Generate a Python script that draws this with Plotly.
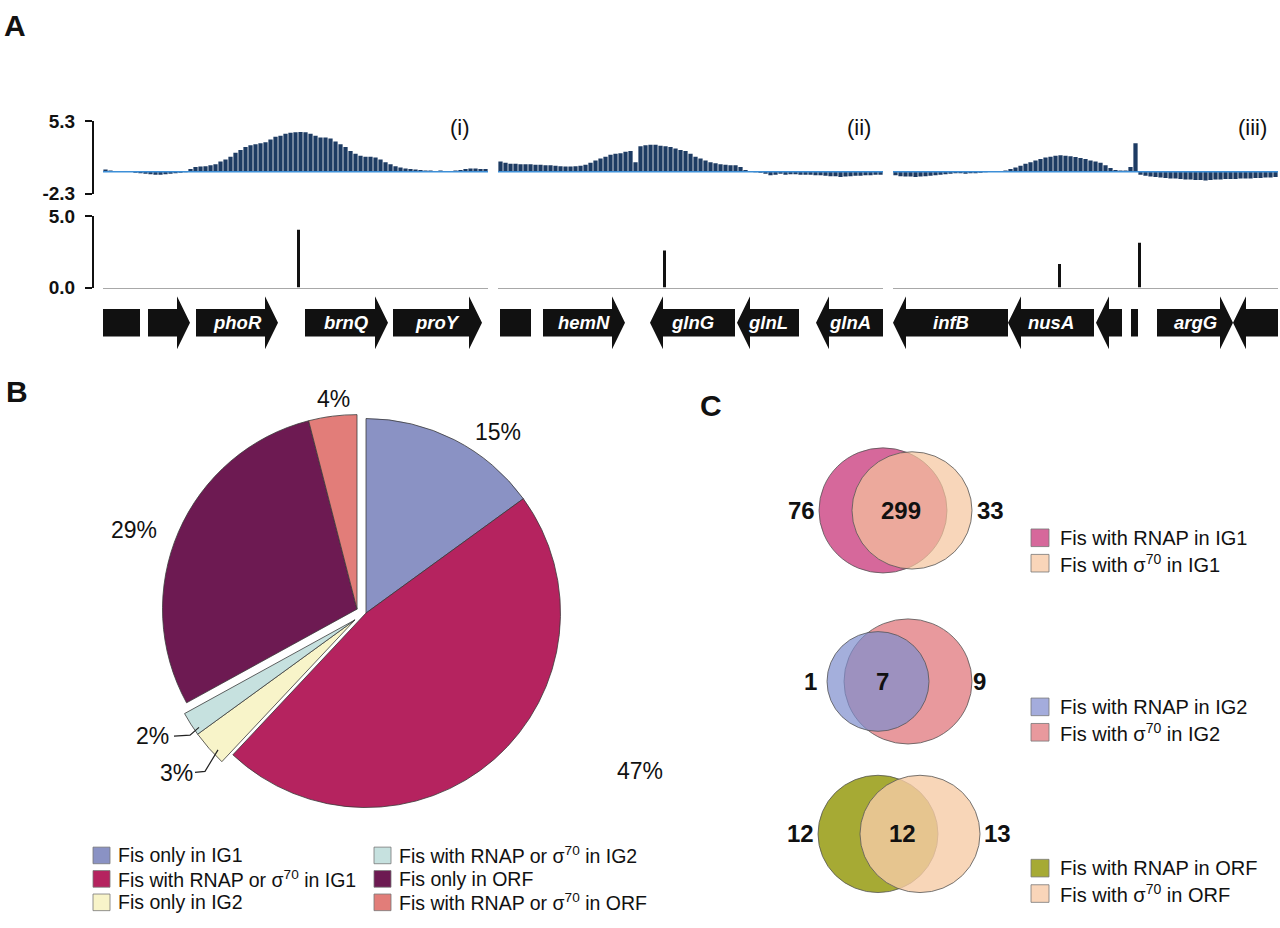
import numpy as np
import plotly.graph_objects as go

W, H = 1280, 928
FONT = "Liberation Sans, Arial, sans-serif"

# ================= DATA =================
# Panel A - Fis ChIP-chip log-ratio profile of three loci (one value per probe)
profile_i = [0.25, 0.15, 0.1, 0.05, 0.1, 0.0, -0.1, -0.15, -0.2, -0.25, -0.3, -0.3, -0.25, -0.2, -0.15, -0.1, -0.05,
             0.3, 0.5, 0.55, 0.6, 0.7, 0.8, 1.1, 1.3, 1.6, 2.0, 2.3, 2.6, 2.8, 2.9, 3.0, 3.1, 3.4, 3.7, 3.8, 4.0, 4.1, 4.15, 4.2,
             4.15, 4.0, 3.8, 3.6, 3.6, 3.5, 3.2, 2.9, 2.6, 2.2, 1.9, 1.7, 1.6, 1.6, 1.5, 1.3, 1.0, 0.8, 0.6, 0.45, 0.35, 0.3,
             0.25, 0.2, 0.15, 0.15, 0.1, 0.15, 0.1, 0.05, 0.15, 0.2, 0.3, 0.35, 0.35, 0.3, 0.3]
profile_ii = [1.1, 0.95, 0.85, 0.85, 0.8, 0.8, 0.8, 0.75, 0.75, 0.7, 0.7, 0.65, 0.6, 0.55, 0.55, 0.6, 0.65, 0.75, 0.95,
              1.2, 1.4, 1.6, 1.8, 1.9, 1.95, 2.1, 2.2, 1.0, 2.7, 2.8, 2.85, 2.85, 2.75, 2.7, 2.6, 2.45, 2.3, 2.2, 1.9,
              1.6, 1.4, 1.2, 1.0, 0.9, 0.8, 0.75, 0.7, 0.7, 0.5, 0.2, 0.05, -0.05, -0.1, -0.2, -0.35, -0.3, -0.2, -0.3,
              -0.25, -0.25, -0.3, -0.3, -0.3, -0.35, -0.35, -0.4, -0.45, -0.45, -0.55, -0.5, -0.45, -0.4, -0.4, -0.35,
              -0.35, -0.3, -0.3]
profile_iii = [-0.35, -0.45, -0.5, -0.5, -0.55, -0.5, -0.45, -0.4, -0.35, -0.3,
               -0.25, -0.2, -0.15, -0.15, -0.2, -0.15, -0.15, -0.1, -0.05, 0.0,
               0.05, 0.1, 0.15, 0.3, 0.45, 0.65, 0.85, 1.0, 1.2, 1.35,
               1.5, 1.6, 1.7, 1.75, 1.7, 1.65, 1.55, 1.45, 1.35, 1.2,
               1.1, 0.95, 0.7, 0.4, 0.2, 0.15, 0.15, 0.5, 3.0, -0.3,
               -0.4, -0.5, -0.55, -0.6, -0.65, -0.7, -0.7, -0.75, -0.8, -0.8,
               -0.85, -0.85, -0.9, -0.85, -0.8, -0.8, -0.75, -0.75, -0.75, -0.7,
               -0.7, -0.7, -0.65, -0.65, -0.6, -0.6, -0.55]

# peak calls (probe position, score)
peak_pos_i, peak_val_i = [38.6], [4.05]
peak_pos_ii, peak_val_ii = [32.8], [2.6]
peak_pos_iii, peak_val_iii = [32.8, 48.8], [1.65, 3.15]

# predicted Fis sites (triangles)
site_pos = [37.5, 32.9, 32.5]
panel_tags = ["(i)", "(ii)", "(iii)"]

track1_ticks = [-2.3, 5.3]
track2_ticks = [0.0, 5.0]

# genes (probe-position coordinates) ; strand 1 = forward, -1 = reverse, 0 = no arrow
genes_i_name = ["", "", "phoR", "brnQ", "proY"]
genes_i_start = [-0.5, 8.5, 18.1, 39.9, 57.5]
genes_i_end = [6.9, 16.9, 34.5, 56.5, 75.3]
genes_i_strand = [0, 1, 1, 1, 1]

genes_ii_name = ["", "hemN", "glnG", "glnL", "glnA"]
genes_ii_start = [-0.1, 8.5, 29.9, 47.3, 63.1]
genes_ii_end = [6.1, 24.9, 46.9, 59.7, 76.5]
genes_ii_strand = [0, 1, -1, -1, -1]

genes_iii_name = ["infB", "nusA", "", "", "argG", ""]
genes_iii_start = [-0.5, 22.5, 40.1, 47.1, 52.3, 67.5]
genes_iii_end = [22.5, 39.7, 45.3, 48.5, 67.5, 76.5]
genes_iii_strand = [-1, -1, -1, 0, 1, -1]

# Panel B - pie
pie_labels = ["Fis only in IG1", "Fis with RNAP or σ<sup>70</sup> in IG1", "Fis only in IG2",
              "Fis with RNAP or σ<sup>70</sup> in IG2", "Fis only in ORF", "Fis with RNAP or σ<sup>70</sup> in ORF"]
pie_values = [15, 47, 3, 2, 29, 4]
pie_colors = ["#8a92c4", "#b5235f", "#f8f4c9", "#c6e1df", "#6d1a52", "#e27d79"]
pie_groups = [0, 0, 1, 1, 2, 2]

# Panel C - Venn diagrams
venn_left_only = [76, 1, 12]
venn_both = [299, 7, 12]
venn_right_only = [33, 9, 13]
venn_left_names = ["Fis with RNAP in IG1", "Fis with RNAP in IG2", "Fis with RNAP in ORF"]
venn_right_names = ["Fis with σ<sup>70</sup> in IG1", "Fis with σ<sup>70</sup> in IG2", "Fis with σ<sup>70</sup> in ORF"]
venn_left_colors = ["rgb(214,104,155)", "rgb(164,172,220)", "rgb(166,170,52)"]
venn_right_colors = ["rgb(249,213,185)", "rgb(232,153,157)", "rgb(249,213,185)"]

# ================= GEOMETRY / STYLE =================
def px(x):
    return x / W


def py(y):
    return 1 - y / H


panel_x = [(103, 488), (498, 883), (893, 1278)]
track1_y = (114, 188)
track2_y = (211, 284)
gene_y = (293, 347)
axis_x = 93
BAR = "#1d3b63"
HEAD = 2.6
RH = 0.52

fig = go.Figure()
xa = ["x", "x2", "x3"]
profiles = [profile_i, profile_ii, profile_iii]
peaks = [(peak_pos_i, peak_val_i), (peak_pos_ii, peak_val_ii), (peak_pos_iii, peak_val_iii)]
genes = [(genes_i_name, genes_i_start, genes_i_end, genes_i_strand),
         (genes_ii_name, genes_ii_start, genes_ii_end, genes_ii_strand),
         (genes_iii_name, genes_iii_start, genes_iii_end, genes_iii_strand)]

shapes = []
annotations = []


def ann(x, y, text, size, color="#111", xanchor="center", xref="x9", yref="y9"):
    annotations.append(dict(x=x, y=y, xref=xref, yref=yref, text=text, showarrow=False,
                            xanchor=xanchor, yanchor="middle",
                            font=dict(family=FONT, size=size, color=color)))


layout_axes = {}
for k in range(3):
    n = len(profiles[k])
    fig.add_trace(go.Bar(x=np.arange(n), y=profiles[k], xaxis=xa[k], yaxis="y",
                         marker=dict(color=BAR, line=dict(width=0)), hoverinfo="skip", showlegend=False))
    fig.add_trace(go.Bar(x=peaks[k][0], y=peaks[k][1], width=0.6, xaxis=xa[k], yaxis="y2",
                         marker=dict(color="#111", line=dict(width=0)), hoverinfo="skip", showlegend=False))
    fig.add_trace(go.Scatter(x=[site_pos[k]], y=[7.5], mode="markers", xaxis=xa[k], yaxis="y",
                             marker=dict(symbol="triangle-down", size=21, color="#111", line=dict(width=0)),
                             cliponaxis=False, hoverinfo="skip", showlegend=False))
    key = "xaxis" if k == 0 else f"xaxis{k + 1}"
    layout_axes[key] = dict(domain=[px(panel_x[k][0]), px(panel_x[k][1])], range=[-0.5, n - 0.5],
                            anchor="y2", showline=True, linecolor="#a8a8a8", linewidth=1.5,
                            showticklabels=False, ticks="", showgrid=False, zeroline=False, fixedrange=True)
    # light-blue baseline
    shapes.append(dict(type="line", xref=f"{xa[k]} domain", x0=0, x1=1, yref="y", y0=0, y1=0,
                       line=dict(color="#3d8fd8", width=1.5), layer="above"))
    # genes
    names, st, en, sd = genes[k]
    for nm, s, e, d in zip(names, st, en, sd):
        if d == 1:
            b = e - HEAD
            path = f"M{s},{-RH} L{b},{-RH} L{b},-1 L{e},0 L{b},1 L{b},{RH} L{s},{RH} Z"
        elif d == -1:
            b = s + HEAD
            path = f"M{e},{-RH} L{b},{-RH} L{b},-1 L{s},0 L{b},1 L{b},{RH} L{e},{RH} Z"
        else:
            path = f"M{s},{-RH} L{e},{-RH} L{e},{RH} L{s},{RH} Z"
        shapes.append(dict(type="path", path=path, xref=xa[k], yref="y3", fillcolor="#111",
                           line=dict(width=0), layer="above"))
        if nm:
            ann((s + e) / 2, 0, f"<b><i>{nm}</i></b>", 18.5, color="white", xref=xa[k], yref="y3")
    ann({0: 460, 1: 859, 2: 1252}[k], 120, panel_tags[k], 22)

yaxis_common = dict(anchor="free", position=px(axis_x), showline=True, linecolor="#111", linewidth=2,
                    ticks="outside", ticklen=7, tickwidth=2, tickcolor="#111", showgrid=False, zeroline=False,
                    ticklabelstandoff=6, tickfont=dict(family=FONT, size=19, color="#111"), fixedrange=True)
layout_axes["yaxis"] = dict(domain=[py(track1_y[1]), py(track1_y[0])],
                            range=[track1_ticks[0] - 1e-4, track1_ticks[1] + 1e-4],
                            tickvals=track1_ticks, ticktext=[f"<b>{v:.1f}</b>" for v in track1_ticks], **yaxis_common)
layout_axes["yaxis2"] = dict(domain=[py(track2_y[1]), py(track2_y[0])],
                             range=[track2_ticks[0] - 1e-4, track2_ticks[1] + 1e-4],
                             tickvals=track2_ticks, ticktext=[f"<b>{v:.1f}</b>" for v in track2_ticks], **yaxis_common)
layout_axes["yaxis3"] = dict(domain=[py(gene_y[1]), py(gene_y[0])], range=[-1, 1], anchor="x",
                             visible=False, fixedrange=True)
# overlay axis in pixel units for annotations/venn
layout_axes["xaxis9"] = dict(domain=[0, 1], range=[0, W], anchor="y9", visible=False, fixedrange=True)
layout_axes["yaxis9"] = dict(domain=[0, 1], range=[H, 0], anchor="x9", visible=False, fixedrange=True)

# ---------------- Panel B: pie ----------------
cx, cy, r = 366, 617, 199
group_offsets = [(0, 0), (-11, 7), (-9, -4)]
for g, (dx, dy) in enumerate(group_offsets):
    cols = [c if grp == g else "rgba(0,0,0,0)" for c, grp in zip(pie_colors, pie_groups)]
    lws = [0.8 if grp == g else 0 for grp in pie_groups]
    fig.add_trace(go.Pie(values=pie_values, labels=pie_labels, sort=False, direction="clockwise", rotation=0,
                         marker=dict(colors=cols, line=dict(color="#3a3a3a", width=lws)),
                         textinfo="none", hoverinfo="skip", showlegend=False,
                         domain=dict(x=[px(cx + dx - r), px(cx + dx + r)], y=[py(cy + dy + r), py(cy + dy - r)])))

pct_pos = [(498, 432), (640, 779), (176, 781), (152, 743), (134, 532), (333, 398)]
for v, (x, y) in zip(pie_values, pct_pos):
    ann(x, y, f"{v}%", 23)
shapes.append(dict(type="path", xref="x9", yref="y9", path="M174,743 L190,742 L199,734",
                   line=dict(color="#222", width=1.2)))
shapes.append(dict(type="path", xref="x9", yref="y9", path="M195,780 L205,779 L218,757",
                   line=dict(color="#222", width=1.2)))

# pie legend (3 rows x 2 columns, column-major)
leg_cols_x = [93, 374]
leg_rows_y = [865, 889, 913]
sq = 17
for i, (lab, col) in enumerate(zip(pie_labels, pie_colors)):
    cxl = leg_cols_x[i // 3]
    ryl = leg_rows_y[i % 3]
    shapes.append(dict(type="rect", xref="x9", yref="y9", x0=cxl, x1=cxl + sq, y0=ryl - sq / 2, y1=ryl + sq / 2,
                       fillcolor=col, line=dict(color="#777", width=0.8)))
    ann(cxl + sq + 6, ryl, lab, 19.5, xanchor="left")

# ---------------- Panel C: Venn ----------------
venn_cy = [512, 687, 843]
venn_left_geo = [(883, 64), (878, 51), (878, 60)]
venn_right_geo = [(912, 60), (908, 64), (920, 60)]
venn_left_fill = ["rgb(214,104,155)", "rgba(126,141,205,0.7)", "rgb(166,170,52)"]
venn_right_fill = ["rgba(245,196,156,0.7)", "rgb(232,153,157)", "rgba(246,204,166,0.8)"]
venn_left_on_top = [False, True, False]
venn_lab_left_x = [801, 810, 800]
venn_lab_mid_x = [901, 882, 902]
venn_lab_right_x = [990, 979, 997]
venn_leg_rows = [(540, 566), (713, 739), (878, 904)]

for j in range(3):
    cyv = venn_cy[j]
    (lx, lr), (rx, rr) = venn_left_geo[j], venn_right_geo[j]
    left = dict(type="circle", xref="x9", yref="y9", x0=lx - lr, x1=lx + lr, y0=cyv - lr, y1=cyv + lr,
                fillcolor=venn_left_fill[j], line=dict(color="#555", width=0.8))
    right = dict(type="circle", xref="x9", yref="y9", x0=rx - rr, x1=rx + rr, y0=cyv - rr, y1=cyv + rr,
                 fillcolor=venn_right_fill[j], line=dict(color="#555", width=0.8))
    shapes.extend([right, left] if venn_left_on_top[j] else [left, right])
    ann(venn_lab_left_x[j], cyv, f"<b>{venn_left_only[j]}</b>", 24)
    ann(venn_lab_mid_x[j], cyv, f"<b>{venn_both[j]}</b>", 24)
    ann(venn_lab_right_x[j], cyv, f"<b>{venn_right_only[j]}</b>", 24)
    for name, col, yy in zip([venn_left_names[j], venn_right_names[j]],
                             [venn_left_colors[j], venn_right_colors[j]], venn_leg_rows[j]):
        shapes.append(dict(type="rect", xref="x9", yref="y9", x0=1031, x1=1049, y0=yy - 9, y1=yy + 9,
                           fillcolor=col, line=dict(color="#777", width=0.8)))
        ann(1058, yy, name, 20, xanchor="left")

# panel letters
ann(15, 16, "<b>A</b>", 30)
ann(17, 390, "<b>B</b>", 30)
ann(711, 405, "<b>C</b>", 30)

fig.update_layout(width=W, height=H, margin=dict(l=0, r=0, t=0, b=0), paper_bgcolor="white",
                  plot_bgcolor="rgba(0,0,0,0)", barmode="overlay", bargap=0.15, showlegend=False,
                  font=dict(family=FONT), shapes=shapes, annotations=annotations, **layout_axes)

page_fix = ("var d=document.documentElement,b=document.body;"
            "d.style.margin='0';d.style.padding='0';d.style.overflow='hidden';"
            "b.style.margin='0';b.style.padding='0';b.style.overflow='hidden';"
            "var g=document.getElementsByClassName('plotly-graph-div')[0];"
            "g.style.position='fixed';g.style.top='0px';g.style.left='0px';")
fig.write_html("out.html", config={"displayModeBar": False, "staticPlot": True}, post_script=page_fix)
